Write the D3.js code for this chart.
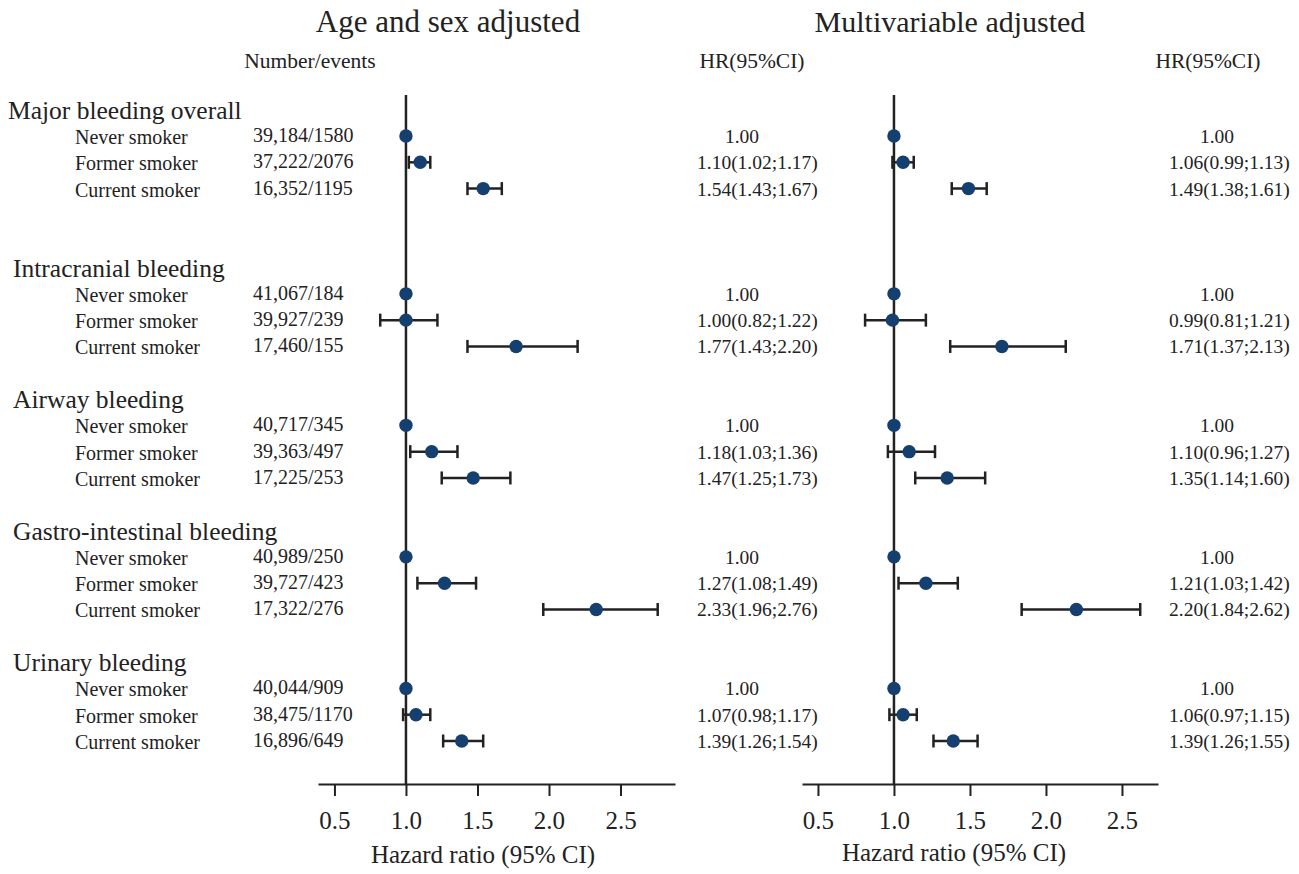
<!DOCTYPE html>
<html>
<head>
<meta charset="utf-8">
<script src="https://cdn.jsdelivr.net/npm/d3@7"></script>
<style>
  body { margin: 0; background: #fff; }
  svg text { font-family: "Liberation Serif", "Times New Roman", serif; fill: #222; }
  .axis path, .axis line { stroke: #222; stroke-width: 2px; }
  .axis text { font-size: 25px; fill: #222; }
</style>
</head>
<body>
<div id="chart"></div>
<script>
// Forest plot: smoking status and bleeding risk

// outcome groups and smoking categories
var groups = ["Major bleeding overall", "Intracranial bleeding", "Airway bleeding",
              "Gastro-intestinal bleeding", "Urinary bleeding"];
var smokers = ["Never smoker", "Former smoker", "Current smoker"];

// number/events column
var counts = [
  ["39,184/1580", "37,222/2076", "16,352/1195"],
  ["41,067/184", "39,927/239", "17,460/155"],
  ["40,717/345", "39,363/497", "17,225/253"],
  ["40,989/250", "39,727/423", "17,322/276"],
  ["40,044/909", "38,475/1170", "16,896/649"]
];

// age and sex adjusted: [hr, lower, upper]
var ageSexHR = [
  [[1.00], [1.10, 1.02, 1.17], [1.54, 1.43, 1.67]],
  [[1.00], [1.00, 0.82, 1.22], [1.77, 1.43, 2.20]],
  [[1.00], [1.18, 1.03, 1.36], [1.47, 1.25, 1.73]],
  [[1.00], [1.27, 1.08, 1.49], [2.33, 1.96, 2.76]],
  [[1.00], [1.07, 0.98, 1.17], [1.39, 1.26, 1.54]]
];

// multivariable adjusted: [hr, lower, upper]
var multiHR = [
  [[1.00], [1.06, 0.99, 1.13], [1.49, 1.38, 1.61]],
  [[1.00], [0.99, 0.81, 1.21], [1.71, 1.37, 2.13]],
  [[1.00], [1.10, 0.96, 1.27], [1.35, 1.14, 1.60]],
  [[1.00], [1.21, 1.03, 1.42], [2.20, 1.84, 2.62]],
  [[1.00], [1.06, 0.97, 1.15], [1.39, 1.26, 1.55]]
];

var tickValues = [0.5, 1.0, 1.5, 2.0, 2.5];

// row slot of each group header (rows follow right after)
var headerRows = [0, 6, 11, 16, 21];

var svgWidth = 1299;
var svgHeight = 874;

var svg = d3.select("#chart").append("svg")
    .attr("width", svgWidth)
    .attr("height", svgHeight);

// row index -> y position
var yRow = d3.scaleLinear().domain([0, 24]).range([109.7, 741]);

var axisY = 784;
var fmt = d3.format(".2f");

function ciText(d) {
  if (d.length === 1) return fmt(d[0]);
  return fmt(d[0]) + "(" + fmt(d[1]) + ";" + fmt(d[2]) + ")";
}

// titles
svg.append("text").attr("x", 448).attr("y", 32).attr("text-anchor", "middle")
    .style("font-size", "31px").text("Age and sex adjusted");
svg.append("text").attr("x", 950).attr("y", 32).attr("text-anchor", "middle")
    .style("font-size", "30px").text("Multivariable adjusted");

// column headers
svg.append("text").attr("x", 310).attr("y", 68).attr("text-anchor", "middle")
    .style("font-size", "21.5px").text("Number/events");
svg.append("text").attr("x", 752).attr("y", 68).attr("text-anchor", "middle")
    .style("font-size", "21.5px").text("HR(95%CI)");
svg.append("text").attr("x", 1208).attr("y", 68).attr("text-anchor", "middle")
    .style("font-size", "21.5px").text("HR(95%CI)");

// left side labels
groups.forEach(function (g, gi) {
  var h = headerRows[gi];
  svg.append("text")
      .attr("x", gi === 0 ? 8 : 13)
      .attr("y", yRow(h) + 9)
      .style("font-size", "25.5px")
      .text(g);

  smokers.forEach(function (s, si) {
    var y = yRow(h + 1 + si);
    svg.append("text").attr("x", 75).attr("y", y + 8)
        .style("font-size", "20px").text(s);
    svg.append("text").attr("x", 253).attr("y", y + 6)
        .style("font-size", "20px").text(counts[gi][si]);
  });
});

// one forest panel
function drawPanel(data, xScale, refX, ciX, titleX, titleY) {
  var g = svg.append("g");

  // flatten rows
  var rows = [];
  data.forEach(function (grp, gi) {
    grp.forEach(function (d, si) {
      rows.push({ d: d, y: yRow(headerRows[gi] + 1 + si) });
    });
  });

  // axis
  g.append("g")
      .attr("class", "axis")
      .attr("transform", "translate(0," + axisY + ")")
      .call(d3.axisBottom(xScale).tickValues(tickValues)
          .tickFormat(d3.format(".1f")).tickSize(12).tickSizeOuter(0).tickPadding(15));

  // reference line at HR = 1
  g.append("line")
      .attr("x1", xScale(1)).attr("x2", xScale(1))
      .attr("y1", 95).attr("y2", axisY)
      .attr("stroke", "#222").attr("stroke-width", 2.5);

  var ci = rows.filter(function (r) { return r.d.length === 3; });

  g.selectAll(".ci").data(ci).enter().append("line")
      .attr("x1", function (r) { return xScale(r.d[1]); })
      .attr("x2", function (r) { return xScale(r.d[2]); })
      .attr("y1", function (r) { return r.y; })
      .attr("y2", function (r) { return r.y; })
      .attr("stroke", "#222").attr("stroke-width", 2.5);

  [1, 2].forEach(function (k) {
    g.selectAll(".cap" + k).data(ci).enter().append("line")
        .attr("x1", function (r) { return xScale(r.d[k]); })
        .attr("x2", function (r) { return xScale(r.d[k]); })
        .attr("y1", function (r) { return r.y - 6.5; })
        .attr("y2", function (r) { return r.y + 6.5; })
        .attr("stroke", "#222").attr("stroke-width", 2.5);
  });

  g.selectAll("circle").data(rows).enter().append("circle")
      .attr("cx", function (r) { return xScale(r.d[0]); })
      .attr("cy", function (r) { return r.y; })
      .attr("r", 6.7)
      .attr("fill", "#153f6f");

  // HR text column
  g.selectAll(".hr").data(rows).enter().append("text")
      .attr("x", function (r) { return r.d.length === 1 ? refX : ciX; })
      .attr("y", function (r) { return r.y + 7; })
      .attr("text-anchor", function (r) { return r.d.length === 1 ? "middle" : "start"; })
      .style("font-size", "19.5px")
      .text(function (r) { return ciText(r.d); });

  // axis title
  g.append("text").attr("x", titleX).attr("y", titleY).attr("text-anchor", "middle")
      .style("font-size", "25px").text("Hazard ratio (95% CI)");
}

var xLeft = d3.scaleLinear().domain([0.385, 2.881]).range([318, 675]);
var xRight = d3.scaleLinear().domain([0.395, 2.737]).range([802, 1158]);

drawPanel(ageSexHR, xLeft, 742, 697, 483, 863);
drawPanel(multiHR, xRight, 1217, 1169, 954, 861);
</script>
</body>
</html>
